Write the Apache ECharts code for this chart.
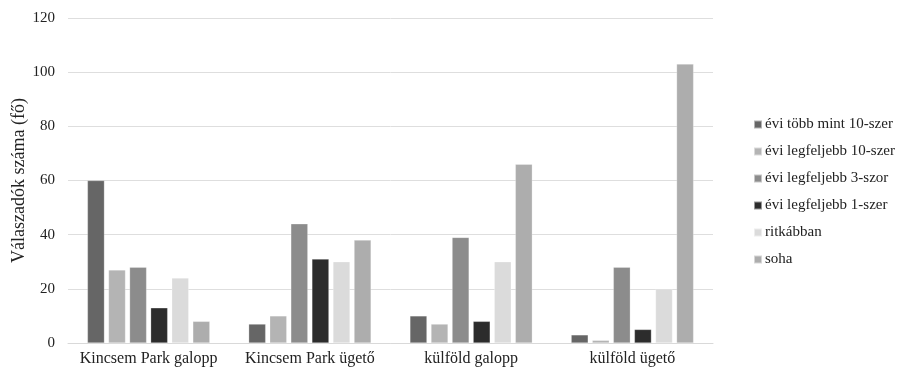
<!DOCTYPE html>
<html>
<head>
<meta charset="utf-8">
<script src="https://cdn.jsdelivr.net/npm/echarts@6/dist/echarts.min.js"></script>
<style>
	html, body { margin: 0; padding: 0; background: #fff; }
	#box { width: 901px; height: 370px; }
</style>
</head>
<body>
<div id="box"></div>
<script>
	// 数据
	var categories = ['Kincsem Park galopp', 'Kincsem Park ügető', 'külföld galopp', 'külföld ügető'];
	var seriesNames = ['évi több mint 10-szer', 'évi legfeljebb 10-szer', 'évi legfeljebb 3-szor', 'évi legfeljebb 1-szer', 'ritkábban', 'soha'];
	var tobbMint10 = [60, 7, 10, 3];
	var legfeljebb10 = [27, 10, 7, 1];
	var legfeljebb3 = [28, 44, 39, 28];
	var legfeljebb1 = [13, 31, 8, 5];
	var ritkabban = [24, 30, 30, 20];
	var soha = [8, 38, 66, 103];
	var yTicks = [0, 20, 40, 60, 80, 100, 120];

	var colors = ['#666666', '#b4b4b4', '#8c8c8c', '#2c2c2c', '#dbdbdb', '#adadad'];
	var allData = [tobbMint10, legfeljebb10, legfeljebb3, legfeljebb1, ritkabban, soha];
	var font = 'Liberation Serif';

	var myChart = echarts.init(document.getElementById('box'));

	var series = seriesNames.map(function (name, i) {
		return {
			name: name,
			type: 'bar',
			barWidth: 17,
			barGap: '24%',
			data: allData[i],
			itemStyle: { color: colors[i], borderColor: 'rgba(255,255,255,0.5)', borderWidth: 0.5 }
		};
	});

	var option = {
		animation: false,
		color: colors,
		textStyle: { fontFamily: font },
		grid: { left: 68, right: 188, top: 18, bottom: 27, outerBoundsMode: 'none' },
		legend: {
			orient: 'vertical',
			left: 748,
			top: 112,
			itemWidth: 8,
			itemHeight: 8,
			itemGap: 12,
			icon: 'rect',
			textStyle: { fontFamily: font, fontSize: 15, color: '#222', padding: [0, 0, 0, -2] },
			data: seriesNames
		},
		xAxis: {
			type: 'category',
			data: categories,
			axisTick: { show: false },
			axisLine: { lineStyle: { color: '#d9d9d9', width: 1 } },
			axisLabel: { fontFamily: font, fontSize: 16, color: '#222', margin: 8, interval: 0 }
		},
		yAxis: {
			type: 'value',
			min: yTicks[0],
			max: yTicks[yTicks.length - 1],
			interval: 20,
			name: 'Válaszadók száma (fő)',
			nameLocation: 'middle',
			nameGap: 40,
			nameMoveOverlap: false,
			nameTextStyle: { fontFamily: font, fontSize: 18, color: '#222' },
			axisLine: { show: false },
			axisTick: { show: false },
			axisLabel: { fontFamily: font, fontSize: 15, color: '#222', margin: 13 },
			splitLine: { lineStyle: { color: '#dedede', width: 1 } }
		},
		series: series
	};

	myChart.setOption(option);
</script>
</body>
</html>
